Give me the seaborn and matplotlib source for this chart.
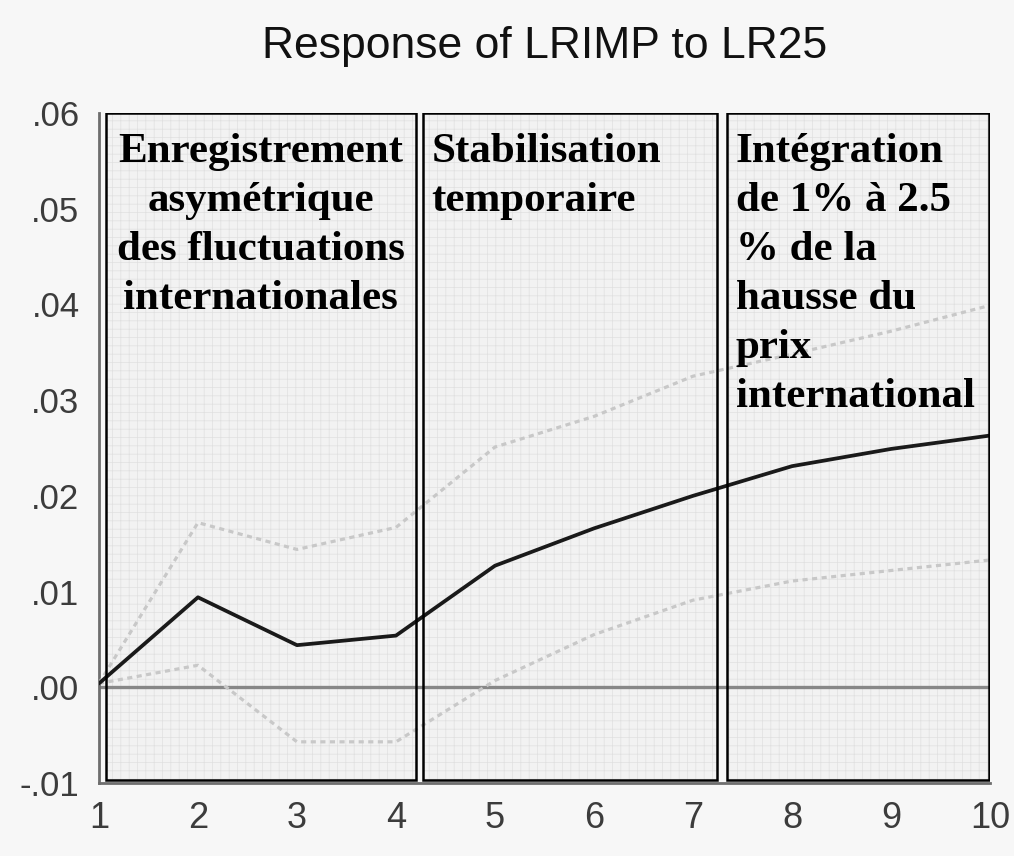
import numpy as np
import pandas as pd
import seaborn as sns
import matplotlib.pyplot as plt
from matplotlib.patches import Rectangle
from matplotlib.ticker import FuncFormatter

# impulse response values
periods = [1, 2, 3, 4, 5, 6, 7, 8, 9, 10]
response = [0.0004, 0.0094, 0.0044, 0.0054, 0.0127, 0.0166, 0.0200, 0.0231, 0.0249, 0.0263]
upper = [0.0004, 0.0172, 0.0144, 0.0167, 0.0251, 0.0283, 0.0325, 0.0348, 0.0372, 0.0399]
lower = [0.0004, 0.0023, -0.0057, -0.0057, 0.0007, 0.0055, 0.0091, 0.0111, 0.0122, 0.0133]

# phases drawn as boxes
phase_start = [1.07, 4.27, 7.34]
phase_end = [4.20, 7.24, 9.995]
phase_text = [
    "Enregistrement\nasymétrique\ndes fluctuations\ninternationales",
    "Stabilisation\ntemporaire",
    "Intégration\nde 1% à 2.5\n% de la\nhausse du\nprix\ninternational",
]

df = pd.DataFrame({"period": periods, "response": response, "upper": upper, "lower": lower})

sns.set_style("white")
plt.rcParams["font.family"] = ["Liberation Sans", "DejaVu Sans"]
plt.rcParams["hatch.linewidth"] = 0.5

bg = "#f7f7f7"
fig = plt.figure(figsize=(10.14, 8.56), dpi=100, facecolor=bg)
ax = fig.add_axes([0.0976, 0.0853, 0.8787, 0.7827])
ax.set_facecolor(bg)

# boxes
for x0, x1 in zip(phase_start, phase_end):
    ax.add_patch(Rectangle((x0, -0.0097), x1 - x0, 0.0697, facecolor="#f2f2f2",
                           edgecolor="#e0e0e0", hatch="++", lw=0, zorder=1))
    ax.add_patch(Rectangle((x0, -0.0097), x1 - x0, 0.0697, facecolor="none",
                           edgecolor="black", lw=1.8, zorder=5))

ax.axhline(0, color="#888888", lw=2.4, zorder=2)

sns.lineplot(data=df, x="period", y="upper", ax=ax, color="#c8c8c8", lw=2.3,
             linestyle=(0, (1.6, 1.4)), zorder=3)
sns.lineplot(data=df, x="period", y="lower", ax=ax, color="#c8c8c8", lw=2.3,
             linestyle=(0, (1.6, 1.4)), zorder=3)
sns.lineplot(data=df, x="period", y="response", ax=ax, color="#1a1a1a", lw=2.7, zorder=4)

# phase labels
txt = dict(va="top", family="Liberation Serif", weight="bold", fontsize=31,
           linespacing=1.38, color="black", zorder=6)
ax.text((phase_start[0] + phase_end[0]) / 2, 0.0579, phase_text[0], ha="center", **txt)
ax.text(phase_start[1] + 0.09, 0.0579, phase_text[1], ha="left", **txt)
ax.text(phase_start[2] + 0.09, 0.0579, phase_text[2], ha="left", **txt)

ax.set_xlim(1, 10)
ax.set_ylim(-0.01, 0.06)
ax.set_xticks(periods)
ax.set_yticks([-0.01, 0.0, 0.01, 0.02, 0.03, 0.04, 0.05, 0.06])
ax.yaxis.set_major_formatter(FuncFormatter(lambda v, p: f"{v:.2f}".replace("0.", ".")))
ax.set_xlabel("")
ax.set_ylabel("")

for s in ["top", "right"]:
    ax.spines[s].set_visible(False)
for s in ["left", "bottom"]:
    ax.spines[s].set_color("#6e6e6e")
    ax.spines[s].set_linewidth(2)
ax.tick_params(axis="both", direction="out", length=8, width=2, color="#6e6e6e",
               labelcolor="#3c3c3c")
ax.tick_params(axis="x", labelsize=26, pad=5)
ax.tick_params(axis="y", labelsize=25, pad=6)

fig.text(0.537, 0.946, "Response of LRIMP to LR25", ha="center", va="center",
         fontsize=32, color="#111111")

fig.savefig("out.png", dpi=100, facecolor=bg)
